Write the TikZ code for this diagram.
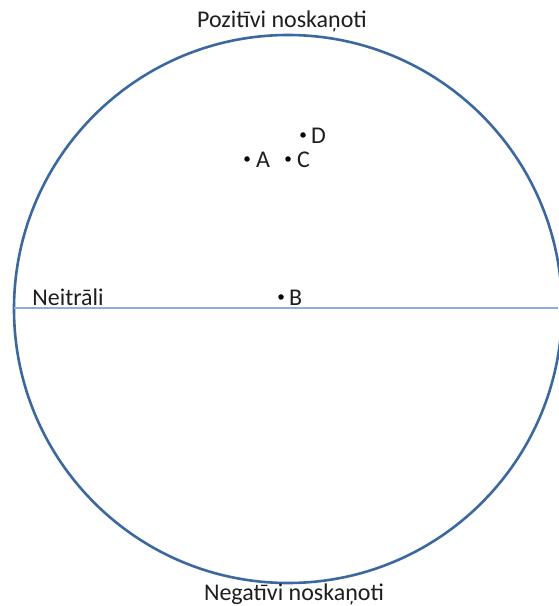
\documentclass[tikz,border=0pt]{standalone}
\usepackage{fontspec}
\setmainfont{Carlito}
\definecolor{ringblue}{RGB}{60,104,160}
\definecolor{lineblue}{RGB}{140,176,222}
\definecolor{txt}{RGB}{30,30,30}
\begin{document}
\begin{tikzpicture}[x=1pt,y=1pt,
  lbl/.style={font=\fontsize{24}{28}\selectfont, text=txt, inner sep=0pt},
  dotpt/.style={circle, fill=black, inner sep=0pt, minimum size=5.5pt},
  ptlbl/.style={font=\fontsize{24}{28}\selectfont, text=txt, inner sep=0pt, anchor=west}]
\useasboundingbox (0,0) rectangle (558,606);
\fill[white] (0,0) rectangle (558,606);
\draw[ringblue, line width=2.6pt] (288,297) circle (274);
\coordinate (L) at (14,298);
\coordinate (R) at (558,298);
\draw[lineblue, line width=1.4pt] (L) -- (R);
\node[lbl] (pos) at (282,585) {Pozitīvi noskaņoti};
\node[lbl] (neg) at (294,12) {Negatīvi noskaņoti};
\node[lbl] (neu) at (68,309) {Neitrāli};
\node[dotpt] (dA) at (247,447) {};
\node[ptlbl] (tA) at (256,446) {A};
\node[dotpt] (dC) at (288,447) {};
\node[ptlbl] (tC) at (297,446) {C};
\node[dotpt] (dD) at (303,471) {};
\node[ptlbl] (tD) at (311,470) {D};
\node[dotpt] (dB) at (281,309) {};
\node[ptlbl] (tB) at (289,308) {B};
\end{tikzpicture}
\end{document}
